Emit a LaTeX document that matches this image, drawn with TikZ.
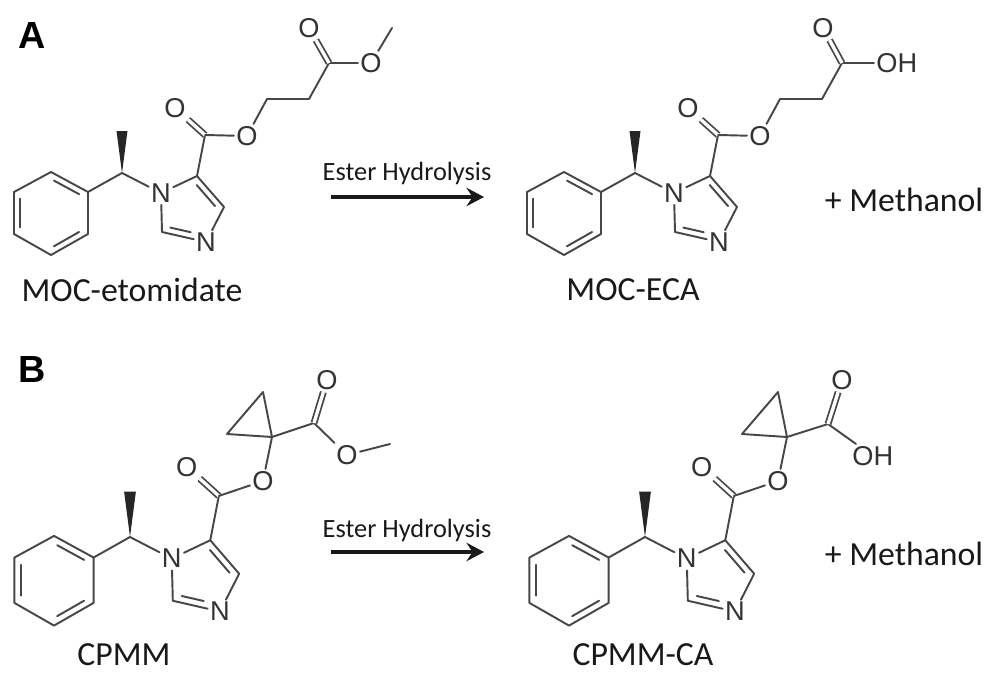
\documentclass[tikz,border=0pt]{standalone}
\usepackage{fontspec}
\setmainfont{Carlito}
\newfontfamily\atomfont{Liberation Sans}
\usetikzlibrary{calc,arrows.meta}

% enlace interior de un doble enlace
\newcommand{\innerbond}[3]{\draw[bond] ($(#1)!.16!(#2)!3.5pt!#3:(#2)$) -- ($(#2)!.16!(#1)!3.5pt!-#3:(#1)$);}

\tikzset{
  bond/.style={line width=1.1pt, draw=black!72, line cap=round, line join=round},
  dbl/.style={draw=black!72, line cap=butt, double=white, double distance=1.9pt, line width=1pt},
  atom/.style={inner sep=1.2pt, text=black!80, font=\atomfont\fontsize{15.5}{16}\selectfont},
  name label/.style={text=black!90, font=\fontsize{19.2}{22}\selectfont},
  panel/.style={text=black, font=\atomfont\bfseries\fontsize{21.5}{24}\selectfont},
  reaction/.style={text=black!90, font=\fontsize{15}{17}\selectfont},
  reaction arrow/.style={line width=1.9pt, draw=black!90, -{Stealth[length=10pt,width=10.5pt,inset=3.5pt]}},
  nucleo/.pic={
    % Fenilo
    \coordinate (-p1) at (-71,-1);
    \coordinate (-p2) at (-34,19);
    \coordinate (-p3) at (-34,61);
    \coordinate (-p4) at (-71,82);
    \coordinate (-p5) at (-108,61);
    \coordinate (-p6) at (-108,19);
    \draw[bond] (-p1) -- (-p2) -- (-p3) -- (-p4) -- (-p5) -- (-p6) -- cycle;
    \innerbond{-p1}{-p2}{-90}
    \innerbond{-p3}{-p4}{-90}
    \innerbond{-p5}{-p6}{-90}
    % Centro quiral
    \coordinate (-c) at (0,0);
    \coordinate (-me) at (0,-42);
    \draw[bond] (-p2) -- (-c);
    \fill[black!85] (-c) -- ($(-me)+(-5.5,0)$) -- ($(-me)+(5.5,0)$) -- cycle;
    % Imidazol
    \node[atom] (-n1) at (39,20) {N};
    \node[atom] (-n3) at (84,69) {N};
    \coordinate (-c5) at (75,3);
    \coordinate (-c4) at (102,34);
    \coordinate (-c2) at (40,59);
    \draw[bond] (-c) -- (-n1);
    \draw[bond] (-n1) -- (-c5) -- (-c4) -- (-n3);
    \draw[bond] (-n1) -- (-c2) -- (-n3);
    \innerbond{-c5}{-c4}{-90}
    \draw[bond, shorten >=2pt] ($(-c2)!.16!(-n3)!3.5pt!90:(-n3)$) -- ($(-n3)!.3!(-c2)!3.5pt!-90:(-c2)$);
    % Carbonilo
    \coordinate (-coo) at (83,-38);
    \node[atom] (-od) at (53,-65) {O};
    \draw[bond] (-c5) -- (-coo);
    \draw[dbl] (-od) -- (-coo);
  }
}

\begin{document}
\begin{tikzpicture}[x=0.02cm, y=-0.02cm]
  \useasboundingbox (0,0) rectangle (1000,686);

  % Paneles
  \node[panel] (panelA) at (32,36) {A};
  \node[panel] (panelB) at (32,370) {B};

  % MOC-etomidate
  \pic (ma) at (122,173) {nucleo};
  \node[atom] (ma-o) at (247,136) {O};
  \coordinate (ma-c1) at (267,99);
  \coordinate (ma-c2) at (309,99);
  \coordinate (ma-c3) at (329,63);
  \node[atom] (ma-o2) at (309,28) {O};
  \node[atom] (ma-o3) at (371,63) {O};
  \coordinate (ma-me) at (392,28);
  \draw[bond] (ma-coo) -- (ma-o);
  \draw[bond] (ma-o) -- (ma-c1) -- (ma-c2) -- (ma-c3) -- (ma-o3);
  \draw[bond] (ma-o3) -- (ma-me);
  \draw[dbl] (ma-o2) -- (ma-c3);
  \node[name label] (labma) at (132,290) {MOC-etomidate};

  % MOC-ECA
  \pic (mb) at (635,173) {nucleo};
  \node[atom] (mb-o) at (760,136) {O};
  \coordinate (mb-c1) at (780,99);
  \coordinate (mb-c2) at (822,99);
  \coordinate (mb-c3) at (842,63);
  \node[atom] (mb-o2) at (823,28) {O};
  \node[atom, anchor=west] (mb-oh) at (874,63) {OH};
  \draw[bond] (mb-coo) -- (mb-o);
  \draw[bond] (mb-o) -- (mb-c1) -- (mb-c2) -- (mb-c3) -- (mb-oh);
  \draw[dbl] (mb-o2) -- (mb-c3);
  \node[name label] (labmb) at (633,290) {MOC-ECA};

  % CPMM
  \pic[xscale=1.07, yscale=1.08] (ca) at (130,537) {nucleo};
  \node[atom] (ca-o) at (263,481) {O};
  \coordinate (ca-q) at (272,437);
  \coordinate (ca-t) at (263,392);
  \coordinate (ca-l) at (227,434);
  \coordinate (ca-c3) at (314,423);
  \node[atom] (ca-o2) at (327,380) {O};
  \node[atom] (ca-o3) at (347,455) {O};
  \coordinate (ca-me) at (390,444);
  \draw[bond] (ca-coo) -- (ca-o) -- (ca-q);
  \draw[bond] (ca-q) -- (ca-t) -- (ca-l) -- cycle;
  \draw[bond] (ca-q) -- (ca-c3) -- (ca-o3) -- (ca-me);
  \draw[dbl] (ca-o2) -- (ca-c3);
  \node[name label] (labca) at (124,655) {CPMM};

  % CPMM-CA
  \pic[xscale=1.07, yscale=1.08] (cb) at (645,537) {nucleo};
  \node[atom] (cb-o) at (778,481) {O};
  \coordinate (cb-q) at (787,437);
  \coordinate (cb-t) at (778,392);
  \coordinate (cb-l) at (742,434);
  \coordinate (cb-c3) at (828,424);
  \node[atom] (cb-o2) at (842,380) {O};
  \node[atom, anchor=west] (cb-oh) at (850,456) {OH};
  \draw[bond] (cb-coo) -- (cb-o) -- (cb-q);
  \draw[bond] (cb-q) -- (cb-t) -- (cb-l) -- cycle;
  \draw[bond] (cb-q) -- (cb-c3) -- (cb-oh);
  \draw[dbl] (cb-o2) -- (cb-c3);
  \node[name label] (labcb) at (643,655) {CPMM-CA};

  % Flechas
  \coordinate (r1a) at (331,197);
  \coordinate (r1b) at (484,197);
  \coordinate (r2a) at (331,552);
  \coordinate (r2b) at (484,552);
  \draw[reaction arrow] (r1a) -- (r1b);
  \draw[reaction arrow] (r2a) -- (r2b);
  \node[reaction] (t1) at (407,173) {Ester Hydrolysis};
  \node[reaction] (t2) at (407,530) {Ester Hydrolysis};
  \node[name label] (prod1) at (904,200) {+ Methanol};
  \node[name label] (prod2) at (904,554) {+ Methanol};
\end{tikzpicture}
\end{document}
